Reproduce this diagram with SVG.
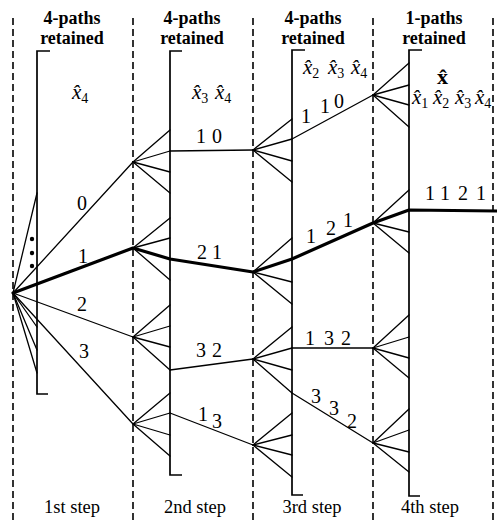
<svg xmlns="http://www.w3.org/2000/svg" width="497" height="522" viewBox="0 0 497 522">
<style>
.dash{stroke:#000;stroke-width:1.6;stroke-dasharray:7 4;fill:none}
.br{stroke:#000;stroke-width:1.7;fill:none}
.ln{stroke:#000;stroke-width:1.3;fill:none;stroke-linecap:round}
.thick{stroke:#000;stroke-width:3.2;fill:none;stroke-linejoin:round;stroke-linecap:round}
text{font-family:"Liberation Serif","Times New Roman",serif;fill:#000}
.hd{font-size:18px;font-weight:bold;text-anchor:middle}
.hd2{font-size:18px;font-weight:bold;text-anchor:middle}
.num{font-size:20px}
.var{font-size:21px;font-style:italic}
.sub{font-size:14px;font-style:normal}
.step{font-size:18.5px;text-anchor:middle}
</style>
<rect width="497" height="522" fill="#fff"/>
<g id="columns">
<line class="dash" x1="13" y1="18" x2="13" y2="522"/>
<line class="dash" x1="133" y1="18" x2="133" y2="522"/>
<line class="dash" x1="253" y1="18" x2="253" y2="522"/>
<line class="dash" x1="373" y1="18" x2="373" y2="522"/>
<line class="dash" x1="493" y1="18" x2="493" y2="522"/>
</g>
<g id="brackets">
<polyline class="br" points="50,51 37,51 37,394 48,394"/>
<polyline class="br" points="182,51 170,51 170,475 182,475"/>
<polyline class="br" points="305,50 292,50 292,495 303,495"/>
<polyline class="br" points="422,50 409,50 409,496 420,496"/>
</g>
<g id="headers">
<text class="hd" x="72" y="24">4-paths</text><text class="hd2" x="72" y="44">retained</text>
<text class="hd" x="192" y="24">4-paths</text><text class="hd2" x="192" y="44">retained</text>
<text class="hd" x="313" y="24">4-paths</text><text class="hd2" x="313" y="44">retained</text>
<text class="hd" x="434" y="24">1-paths</text><text class="hd2" x="434" y="44">retained</text>
</g>
<g id="variables">
<text class="var" x="72" y="99">x̂<tspan class="sub" dy="4">4</tspan></text>
<text class="var" x="192" y="99">x̂<tspan class="sub" dy="4">3</tspan><tspan dy="-4" x="215">x̂</tspan><tspan class="sub" dy="4">4</tspan></text>
<text class="var" x="303" y="74">x̂<tspan class="sub" dy="4">2</tspan><tspan dy="-4" x="328">x̂</tspan><tspan class="sub" dy="4">3</tspan><tspan dy="-4" x="351">x̂</tspan><tspan class="sub" dy="4">4</tspan></text>
<text x="437" y="84" font-size="22" font-weight="bold">x̂</text>
<text class="var" x="412" y="104">x̂<tspan class="sub" dy="4">1</tspan><tspan dy="-4" x="433">x̂</tspan><tspan class="sub" dy="4">2</tspan><tspan dy="-4" x="455">x̂</tspan><tspan class="sub" dy="4">3</tspan><tspan dy="-4" x="475">x̂</tspan><tspan class="sub" dy="4">4</tspan></text>
</g>
<g id="node-root">
<line class="ln" x1="13" y1="293" x2="37" y2="193"/>
<line class="ln" x1="13" y1="293" x2="37" y2="327"/>
<line class="ln" x1="13" y1="293" x2="37" y2="350"/>
<line class="ln" x1="13" y1="293" x2="37" y2="373"/>
<circle cx="32" cy="239" r="2.2"/><circle cx="32" cy="253" r="2.2"/><circle cx="32" cy="266" r="2.2"/>
</g>
<g id="node-s2-0">
<line class="ln" x1="133" y1="162" x2="170" y2="130"/>
<line class="ln" x1="133" y1="162" x2="170" y2="151"/>
<line class="ln" x1="133" y1="162" x2="170" y2="172"/>
<line class="ln" x1="133" y1="162" x2="170" y2="193"/>
</g>
<g id="node-s2-1">
<line class="ln" x1="133" y1="248" x2="170" y2="218"/>
<line class="ln" x1="133" y1="248" x2="170" y2="238"/>
<line class="ln" x1="133" y1="248" x2="170" y2="280"/>
</g>
<g id="node-s2-2">
<line class="ln" x1="133" y1="337" x2="170" y2="305"/>
<line class="ln" x1="133" y1="337" x2="170" y2="326"/>
<line class="ln" x1="133" y1="337" x2="170" y2="347"/>
<line class="ln" x1="133" y1="337" x2="170" y2="370"/>
</g>
<g id="node-s2-3">
<line class="ln" x1="133" y1="424" x2="170" y2="393"/>
<line class="ln" x1="133" y1="424" x2="170" y2="413"/>
<line class="ln" x1="133" y1="424" x2="170" y2="435"/>
<line class="ln" x1="133" y1="424" x2="170" y2="456"/>
</g>
<g id="node-s3-10">
<line class="ln" x1="253" y1="150" x2="292" y2="119"/>
<line class="ln" x1="253" y1="150" x2="292" y2="139"/>
<line class="ln" x1="253" y1="150" x2="292" y2="161"/>
<line class="ln" x1="253" y1="150" x2="292" y2="182"/>
</g>
<g id="node-s3-21">
<line class="ln" x1="253" y1="272" x2="292" y2="238"/>
<line class="ln" x1="253" y1="272" x2="292" y2="282"/>
<line class="ln" x1="253" y1="272" x2="292" y2="304"/>
</g>
<g id="node-s3-32">
<line class="ln" x1="253" y1="359" x2="292" y2="327"/>
<line class="ln" x1="253" y1="359" x2="292" y2="348"/>
<line class="ln" x1="253" y1="359" x2="292" y2="370"/>
<line class="ln" x1="253" y1="359" x2="292" y2="393"/>
</g>
<g id="node-s3-13">
<line class="ln" x1="253" y1="445" x2="292" y2="413"/>
<line class="ln" x1="253" y1="445" x2="292" y2="435"/>
<line class="ln" x1="253" y1="445" x2="292" y2="455"/>
<line class="ln" x1="253" y1="445" x2="292" y2="477"/>
</g>
<g id="node-s4-110">
<line class="ln" x1="373" y1="95" x2="409" y2="63"/>
<line class="ln" x1="373" y1="95" x2="409" y2="85"/>
<line class="ln" x1="373" y1="95" x2="409" y2="105"/>
<line class="ln" x1="373" y1="95" x2="409" y2="127"/>
</g>
<g id="node-s4-121">
<line class="ln" x1="373" y1="223" x2="409" y2="190"/>
<line class="ln" x1="373" y1="223" x2="409" y2="232"/>
<line class="ln" x1="373" y1="223" x2="409" y2="253"/>
</g>
<g id="node-s4-132">
<line class="ln" x1="373" y1="348" x2="409" y2="315"/>
<line class="ln" x1="373" y1="348" x2="409" y2="337"/>
<line class="ln" x1="373" y1="348" x2="409" y2="358"/>
<line class="ln" x1="373" y1="348" x2="409" y2="378"/>
</g>
<g id="node-s4-332">
<line class="ln" x1="373" y1="443" x2="409" y2="409"/>
<line class="ln" x1="373" y1="443" x2="409" y2="430"/>
<line class="ln" x1="373" y1="443" x2="409" y2="452"/>
<line class="ln" x1="373" y1="443" x2="409" y2="472"/>
</g>
<g id="connectors">
<line class="ln" x1="13" y1="293" x2="133" y2="162"/>
<line class="ln" x1="13" y1="293" x2="133" y2="337"/>
<line class="ln" x1="13" y1="293" x2="133" y2="424"/>
<line class="ln" x1="170" y1="151" x2="253" y2="150"/>
<line class="ln" x1="170" y1="370" x2="253" y2="359"/>
<line class="ln" x1="170" y1="413" x2="253" y2="445"/>
<line class="ln" x1="292" y1="139" x2="373" y2="95"/>
<line class="ln" x1="292" y1="348" x2="373" y2="348"/>
<line class="ln" x1="292" y1="393" x2="373" y2="443"/>
<polyline class="thick" points="13,293 133,248 170,259 253,272 292,259 373,223 409,210 497,211"/>
</g>
<g id="labels">
<text class="num" x="77" y="210">0</text>
<text class="num" x="78" y="263">1</text>
<text class="num" x="77" y="311">2</text>
<text class="num" x="79" y="358">3</text>
<text class="num"><tspan x="196" y="143">1</tspan><tspan x="212" y="143">0</tspan></text>
<text class="num"><tspan x="197" y="259">2</tspan><tspan x="212" y="259">1</tspan></text>
<text class="num"><tspan x="196" y="357">3</tspan><tspan x="212" y="357">2</tspan></text>
<text class="num"><tspan x="198" y="421">1</tspan><tspan x="212" y="428">3</tspan></text>
<text class="num"><tspan x="301" y="123">1</tspan><tspan x="320" y="113">1</tspan><tspan x="334" y="108">0</tspan></text>
<text class="num"><tspan x="306" y="243">1</tspan><tspan x="326" y="235">2</tspan><tspan x="343" y="227">1</tspan></text>
<text class="num"><tspan x="425" y="200">1</tspan><tspan x="440" y="200">1</tspan><tspan x="458" y="200">2</tspan><tspan x="476" y="200">1</tspan></text>
<text class="num"><tspan x="305" y="345">1</tspan><tspan x="324" y="345">3</tspan><tspan x="341" y="345">2</tspan></text>
<text class="num"><tspan x="311" y="403">3</tspan><tspan x="329" y="415">3</tspan><tspan x="347" y="428">2</tspan></text>
</g>
<g id="steps">
<text class="step" x="72" y="513">1st step</text>
<text class="step" x="195" y="513">2nd step</text>
<text class="step" x="312" y="513">3rd step</text>
<text class="step" x="430" y="513">4th step</text>
</g>
</svg>
